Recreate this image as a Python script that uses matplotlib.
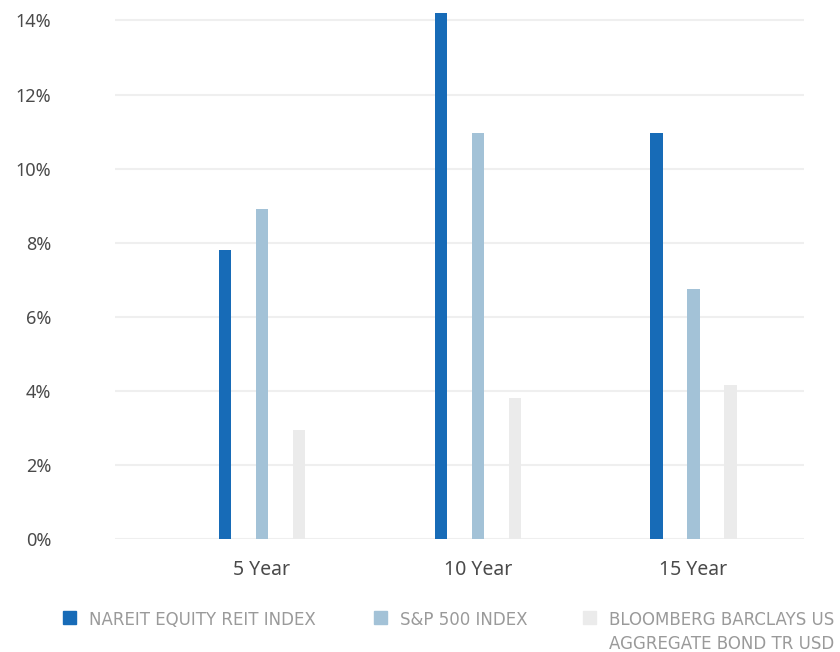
import numpy as np
import matplotlib.pyplot as plt
from matplotlib.patches import Rectangle

periods = ["5 Year", "10 Year", "15 Year"]
nareit = [7.80, 14.21, 10.96]
sp500 = [8.90, 10.96, 6.75]
bond = [2.95, 3.81, 4.17]
series_names = ["NAREIT EQUITY REIT INDEX", "S&P 500 INDEX",
                "BLOOMBERG BARCLAYS US\nAGGREGATE BOND TR USD"]
colors = ["#176bb7", "#a3c2d7", "#ebebeb"]
y_ticks = [0, 2, 4, 6, 8, 10, 12, 14]

fig = plt.figure(figsize=(8.4, 6.52), dpi=100)
ax = fig.add_axes([0.1369, 0.1733, 0.8202, 0.8095])

x = np.arange(len(periods))
width = 0.056
offset = 0.1715
for i, vals in enumerate([nareit, sp500, bond]):
    ax.bar(x + (i - 1) * offset, vals, width, color=colors[i], zorder=3)

ax.set_xlim(-0.681, 2.512)
ax.set_ylim(0, 14.25)
ax.set_yticks(y_ticks)
ax.set_yticklabels([f"{t}%" for t in y_ticks])
ax.set_xticks(x)
ax.set_xticklabels(periods)

for t in ax.get_yticklabels():
    t.set_fontfamily(["Noto Sans", "DejaVu Sans"])
    t.set_fontsize(13)
    t.set_color("#4a4a4a")
for t in ax.get_xticklabels():
    t.set_fontfamily(["Noto Sans", "DejaVu Sans"])
    t.set_fontsize(14)
    t.set_color("#4a4a4a")

ax.tick_params(axis="y", length=0, pad=46)
ax.tick_params(axis="x", length=0, pad=15)
ax.grid(axis="y", color="#efefef", linewidth=1.5, zorder=0)
for s in ax.spines.values():
    s.set_visible(False)

# legend drawn by hand so the wrapped label sits with its first line
W, H = 840, 652
legend_x = [63, 374, 583]
for name, c, lx in zip(series_names, colors, legend_x):
    fig.add_artist(Rectangle((lx / W, 1 - 624 / H), 13 / W, 13 / H,
                             transform=fig.transFigure, color=c))
    fig.text((lx + 26) / W, 1 - 611 / H, name, ha="left", va="top",
             fontsize=12, color="#9a9a9a", linespacing=1.45,
             family=["Liberation Sans Narrow", "DejaVu Sans"])

fig.savefig("out.png", dpi=100, facecolor="white")
